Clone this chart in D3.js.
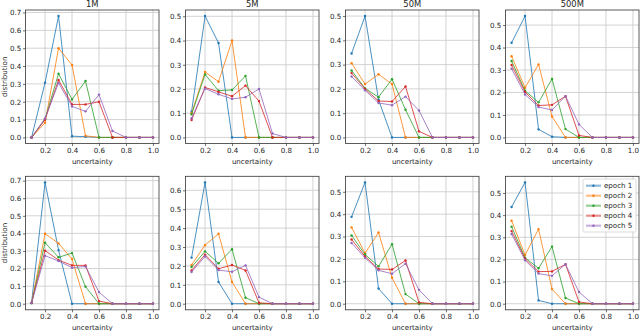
<!DOCTYPE html>
<html><head><meta charset="utf-8">
<script src="https://cdn.jsdelivr.net/npm/d3@7"></script>
<style>
html,body{margin:0;padding:0;background:#fff;}
text{font-family:"DejaVu Sans",sans-serif;fill:#262626;}
</style></head>
<body><svg id="chart" width="640" height="331"></svg>
<script>
// ---- data ----
const uncertainty = [0.1,0.2,0.3,0.4,0.5,0.6,0.7,0.8,0.9,1.0];
const titles = ["1M","5M","50M","500M"];
const seriesNames = ["epoch 1","epoch 2","epoch 3","epoch 4","epoch 5"];
const colors = ["#1f77b4","#ff7f0e","#2ca02c","#d62728","#9467bd"];
const xTicks = [0.2,0.4,0.6,0.8,1.0];

const top1M = [
  [0,0.307,0.68,0.007,0.004,0,0,0,0,0],
  [0,0.082,0.50,0.406,0.009,0,0,0,0,0],
  [0,0.103,0.357,0.213,0.316,0,0,0,0,0],
  [0,0.10,0.322,0.185,0.185,0.20,0,0,0,0],
  [0,0.107,0.305,0.174,0.146,0.24,0.036,0,0,0]
];
const top5M = [
  [0.106,0.501,0.39,0,0,0,0,0,0,0],
  [0.10,0.27,0.23,0.40,0,0,0,0,0,0],
  [0.095,0.26,0.193,0.196,0.254,0,0,0,0,0],
  [0.072,0.206,0.188,0.17,0.214,0.15,0,0,0,0],
  [0.079,0.202,0.178,0.159,0.166,0.20,0.016,0,0,0]
];
const top50M = [
  [0.346,0.50,0.155,0,0,0,0,0,0,0],
  [0.306,0.22,0.26,0.22,0,0,0,0,0,0],
  [0.276,0.202,0.166,0.24,0.114,0,0,0,0,0],
  [0.265,0.20,0.15,0.148,0.21,0.025,0,0,0,0],
  [0.251,0.194,0.142,0.133,0.168,0.111,0,0,0,0]
];
const top500M = [
  [0.421,0.54,0.036,0.003,0,0,0,0,0,0],
  [0.361,0.221,0.325,0.093,0,0,0,0,0,0],
  [0.34,0.208,0.156,0.26,0.037,0,0,0,0,0],
  [0.322,0.202,0.142,0.145,0.183,0.009,0,0,0,0],
  [0.306,0.191,0.135,0.122,0.184,0.058,0,0,0,0]
];
const bottom1M = [
  [0.006,0.69,0.305,0,0,0,0,0,0,0],
  [0.005,0.398,0.343,0.254,0,0,0,0,0,0],
  [0.003,0.347,0.264,0.288,0.097,0,0,0,0,0],
  [0.005,0.302,0.248,0.218,0.218,0.015,0,0,0,0],
  [0.005,0.273,0.243,0.205,0.212,0.066,0,0,0,0]
];
const bottom5M = [
  [0.244,0.642,0.115,0,0,0,0,0,0,0],
  [0.205,0.31,0.37,0.115,0,0,0,0,0,0],
  [0.194,0.277,0.214,0.288,0.032,0,0,0,0,0],
  [0.176,0.26,0.185,0.205,0.176,0.005,0,0,0,0],
  [0.168,0.25,0.178,0.169,0.203,0.035,0,0,0,0]
];
const bottom50M = [
  [0.388,0.542,0.068,0,0,0,0,0,0,0],
  [0.341,0.226,0.318,0.116,0,0,0,0,0,0],
  [0.305,0.22,0.167,0.266,0.043,0,0,0,0,0],
  [0.287,0.211,0.155,0.153,0.193,0.006,0,0,0,0],
  [0.271,0.205,0.149,0.134,0.179,0.062,0,0,0,0]
];
const bottom500M = [
  [0.437,0.548,0.015,0,0,0,0,0,0,0],
  [0.375,0.22,0.337,0.066,0,0,0,0,0,0],
  [0.348,0.208,0.16,0.258,0.026,0,0,0,0,0],
  [0.328,0.203,0.145,0.146,0.178,0.008,0,0,0,0],
  [0.315,0.196,0.136,0.126,0.178,0.053,0,0,0,0]
];
const panelData = [
  [top1M, top5M, top50M, top500M],
  [bottom1M, bottom5M, bottom50M, bottom500M]
];

// ---- layout ----
const svg = d3.select("#chart");
svg.append("rect").attr("width",640).attr("height",331).attr("fill","#fff");
const lefts = [25.5, 185.5, 345.5, 505.5];
const tops = [10, 176.3];
const W = 133.5, H = 133.5;
const fs = 7.1;

panelData.forEach((row, r) => {
  row.forEach((series, c) => {
    const x0 = lefts[c], y0 = tops[r];
    const g = svg.append("g").attr("transform", `translate(${x0},${y0})`);
    const x = d3.scaleLinear().domain([0.055, 1.045]).range([0, W]);
    const ymax = d3.max(series, s => d3.max(s));
    const y = d3.scaleLinear().domain([-0.05*ymax, 1.05*ymax]).range([H, 0]);
    const yTicks = d3.range(0, Math.floor(1.05*ymax*10 + 1e-6) + 1).map(i => i/10);

    // grid
    g.append("g").selectAll("line").data(xTicks).join("line")
      .attr("x1", d => x(d)).attr("x2", d => x(d)).attr("y1", 0).attr("y2", H)
      .attr("stroke", "#c8c8c8").attr("stroke-width", 0.8);
    g.append("g").selectAll("line").data(yTicks).join("line")
      .attr("y1", d => y(d)).attr("y2", d => y(d)).attr("x1", 0).attr("x2", W)
      .attr("stroke", "#c8c8c8").attr("stroke-width", 0.8);

    // axes
    const xAxis = d3.axisBottom(x).tickValues(xTicks).tickFormat(d3.format(".1f")).tickSize(2.5).tickPadding(1.5);
    const yAxis = d3.axisLeft(y).tickValues(yTicks).tickFormat(d3.format(".1f")).tickSize(2.5).tickPadding(1.8);
    const gx = g.append("g").attr("transform", `translate(0,${H})`).call(xAxis);
    const gy = g.append("g").call(yAxis);
    [gx, gy].forEach(a => {
      a.select(".domain").remove();
      a.selectAll(".tick line").attr("stroke", "#333").attr("stroke-width", 0.7);
      a.selectAll(".tick text").attr("font-size", fs).attr("font-family", "DejaVu Sans").attr("fill", "#262626");
    });

    // lines
    const line = d3.line().x((d, i) => x(uncertainty[i])).y(d => y(d));
    series.forEach((s, k) => {
      g.append("path").datum(s).attr("d", line).attr("fill", "none")
        .attr("stroke", colors[k]).attr("stroke-width", 0.9).attr("stroke-opacity", 0.9);
      g.append("g").selectAll("circle").data(s).join("circle")
        .attr("cx", (d, i) => x(uncertainty[i])).attr("cy", d => y(d)).attr("r", 1.2)
        .attr("fill", colors[k]);
    });

    // frame
    g.append("rect").attr("width", W).attr("height", H).attr("fill", "none")
      .attr("stroke", "#333").attr("stroke-width", 0.8);

    // labels
    g.append("text").attr("x", W/2).attr("y", H + 20).attr("text-anchor", "middle")
      .attr("font-size", fs).text("uncertainty");
    if (r === 0) {
      g.append("text").attr("x", W/2).attr("y", -3.5).attr("text-anchor", "middle")
        .attr("font-size", 8.4).text(titles[c]);
    }
    if (c === 0) {
      g.append("text").attr("transform", `translate(${-x0 + 6.6},${H/2}) rotate(-90)`)
        .attr("text-anchor", "middle").attr("font-size", fs).text("distribution");
    }

    // legend
    if (r === 1 && c === 3) {
      const lg = g.append("g").attr("transform", `translate(${583 - x0},${179 - y0})`);
      lg.append("rect").attr("width", 53).attr("height", 53).attr("rx", 1.5)
        .attr("fill", "#fff").attr("fill-opacity", 0.85).attr("stroke", "#d0d0d0").attr("stroke-width", 0.8);
      seriesNames.forEach((n, k) => {
        const yy = 6.7 + k * 10;
        lg.append("line").attr("x1", 3).attr("x2", 18).attr("y1", yy).attr("y2", yy)
          .attr("stroke", colors[k]).attr("stroke-width", 2.2).attr("stroke-opacity", 0.5);
        lg.append("circle").attr("cx", 10.5).attr("cy", yy).attr("r", 1.2).attr("fill", colors[k]);
        lg.append("text").attr("x", 21).attr("y", yy + 2.4).attr("font-size", fs).text(n);
      });
    }
  });
});
</script></body></html>
